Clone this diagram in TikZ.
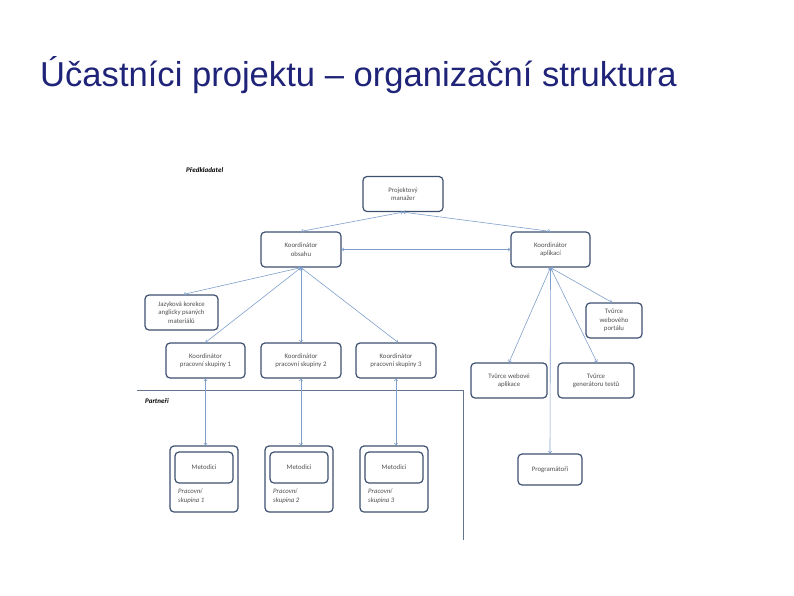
\documentclass[tikz,border=0pt]{standalone}
\usepackage{fontspec}
\setmainfont{Liberation Sans}
\newfontfamily\carlito{Carlito}
\usetikzlibrary{arrows.meta}
\definecolor{boxc}{HTML}{3D5070}
\definecolor{arrc}{HTML}{7F9FCB}
\definecolor{txtc}{HTML}{505050}
\definecolor{titlec}{HTML}{1F2478}
\tikzset{
  box/.style={draw=boxc, line width=1.2pt, rounded corners=4pt, align=center, inner sep=1pt,
    font=\carlito\fontsize{6.8}{8.5}\selectfont, text=txtc, fill=white},
  arr/.style={draw=arrc, line width=0.6pt, {Straight Barb[length=2pt,width=3.5pt]}-{Straight Barb[length=2pt,width=3.5pt]}},
  sep/.style={draw=boxc!80, line width=0.8pt},
  grp/.style={box, minimum width=68pt, minimum height=66pt},
  inbox/.style={box, minimum width=58pt, minimum height=31pt},
  grptext/.style={font=\carlito\itshape\fontsize{6.8}{8.5}\selectfont, text=txtc, align=left, anchor=north west, inner sep=0pt},
  seclabel/.style={font=\carlito\bfseries\itshape\fontsize{7}{8}\selectfont, anchor=base west, inner sep=0pt}
}
\begin{document}
\begin{tikzpicture}[x=1pt,y=-1pt]
\useasboundingbox (0,0) rectangle (794,595);
\node[anchor=base west, inner sep=0pt, text=titlec, font=\fontsize{34.6}{40}\selectfont] (title) at (40,86) {Účastníci projektu – organizační struktura};

\node[seclabel] (lpred) at (186,172) {Předkladatel};
\node[seclabel] (lpart) at (145,403) {Partneři};

% separator lines
\coordinate (h1) at (137,390);
\coordinate (h2) at (463,390);
\coordinate (v2) at (463,540);
\draw[sep] (h1) -- (h2) -- (v2);

\node[box, minimum width=80pt, minimum height=35pt] (pm) at (403,194) {Projektový\\manažer};
\node[box, minimum width=80pt, minimum height=35pt] (ko) at (301,249.5) {Koordinátor\\obsahu};
\node[box, minimum width=79pt, minimum height=35pt] (ka) at (550.5,249.5) {Koordinátor\\aplikací};
\node[box, minimum width=73pt, minimum height=35pt] (jk) at (181.5,312.5) {Jazyková korekce\\anglicky psaných\\materiálů};
\node[box, minimum width=79pt, minimum height=35pt] (k1) at (205.5,360.5) {Koordinátor\\pracovní skupiny 1};
\node[box, minimum width=80pt, minimum height=35pt] (k2) at (301,360.5) {Koordinátor\\pracovní skupiny 2};
\node[box, minimum width=80pt, minimum height=35pt] (k3) at (396,360.5) {Koordinátor\\pracovní skupiny 3};
\node[box, minimum width=56pt, minimum height=35pt] (tp) at (614,320.5) {Tvůrce\\webového\\portálu};
\node[box, minimum width=76pt, minimum height=35pt] (tw) at (509,380.5) {Tvůrce webové\\aplikace};
\node[box, minimum width=76pt, minimum height=35pt] (tg) at (596,380.5) {Tvůrce\\generátoru testů};
\node[box, minimum width=64pt, minimum height=31pt] (pr) at (550,469.5) {Programátoři};

% groups
\node[grp] (g1) at (204,479) {};
\node[inbox] (m1) at (204,467.5) {Metodici};
\node[grptext] (t1) at (178,489) {Pracovní\\skupina 1};
\node[grp] (g2) at (299,479) {};
\node[inbox] (m2) at (299,467.5) {Metodici};
\node[grptext] (t2) at (273,489) {Pracovní\\skupina 2};
\node[grp] (g3) at (394,479) {};
\node[inbox] (m3) at (394,467.5) {Metodici};
\node[grptext] (t3) at (368,489) {Pracovní\\skupina 3};

% connectors
\draw[arr] (pm.south) -- (ko.north);
\draw[arr] (pm.south) -- (ka.north);
\draw[arr] (ko.east) -- (ka.west);
\draw[arr] (ko.south) -- ([xshift=2pt]jk.north);
\draw[arr] (ko.south) -- (k1.north);
\draw[arr] (ko.south) -- (k2.north);
\draw[arr] (ko.south) -- ([xshift=2pt]k3.north);
\draw[arr] (ka.south) -- ([xshift=-2pt]tp.north);
\draw[arr] (ka.south) -- (tw.north);
\draw[arr] (ka.south) -- ([xshift=1pt]tg.north);
\draw[arr] (ka.south) -- (pr.north);
\draw[arr] (k1.south) -- (g1.north -| k1.south);
\draw[arr] (k2.south) -- (g2.north -| k2.south);
\draw[arr] (k3.south) -- (g3.north -| k3.south);
\end{tikzpicture}
\end{document}
